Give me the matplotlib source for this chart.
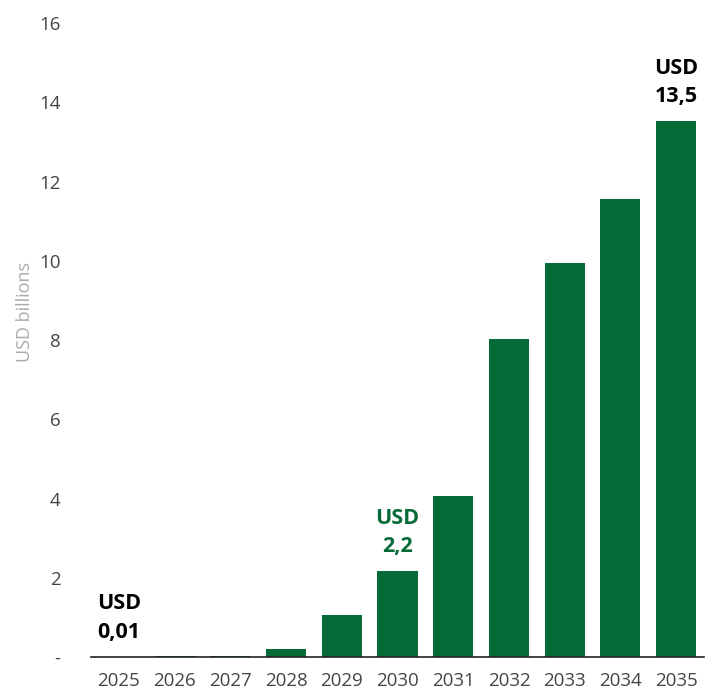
import numpy as np
import matplotlib.pyplot as plt

plt.rcParams['font.family'] = ['Open Sans', 'DejaVu Sans']

years = ['2025', '2026', '2027', '2028', '2029', '2030',
         '2031', '2032', '2033', '2034', '2035']
values = [0.01, 0.03, 0.03, 0.2, 1.06, 2.17, 4.07, 8.03, 9.95, 11.57, 13.53]
callouts = {0: ('USD\n0,01', 'black'),
            5: ('USD\n2,2', '#046a38'),
            10: ('USD\n13,5', 'black')}
yticks = [0, 2, 4, 6, 8, 10, 12, 14, 16]
ytick_labels = ['-', '2', '4', '6', '8', '10', '12', '14', '16']

green = '#046a38'

fig = plt.figure(figsize=(7.14, 6.95), dpi=100)
ax = fig.add_axes([0.1275, 0.0547, 0.8585, 0.912])

x = np.arange(len(years))
ax.bar(x, values, width=0.72, color=green)

for i, (txt, col) in callouts.items():
    ax.annotate(txt, (x[i], values[i]), xytext=(0, 10), textcoords='offset points',
                ha='center', va='bottom', fontsize=15.5, fontweight='bold',
                color=col, linespacing=1.45)

ax.set_xlim(-0.5, len(years) - 0.5)
ax.set_ylim(0, 16)
ax.set_xticks(x)
ax.set_xticklabels(years)
ax.set_yticks(yticks)
ax.set_yticklabels(ytick_labels)
ax.tick_params(length=0, labelsize=13.5, colors='#444444')
ax.tick_params(axis='y', pad=22)
ax.tick_params(axis='x', pad=11)

for s in ['top', 'right', 'left']:
    ax.spines[s].set_visible(False)
ax.spines['bottom'].set_color('#222222')
ax.spines['bottom'].set_linewidth(1.2)

ax.set_ylabel('USD billions', fontsize=13, color='#aaaaaa')
ax.yaxis.set_label_coords(-0.093, 0.545)

fig.savefig('out.png', dpi=100)
